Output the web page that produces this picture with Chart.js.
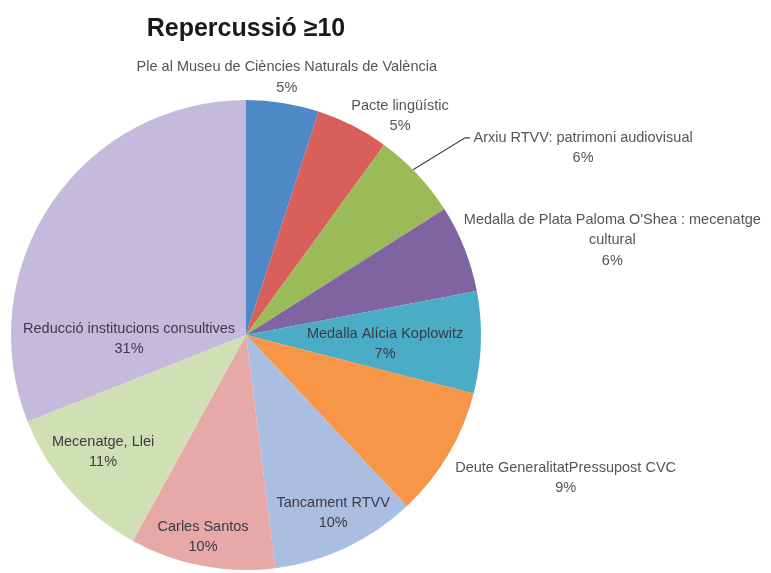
<!DOCTYPE html>
<html>
<head>
<meta charset="utf-8">
<script src="https://cdn.jsdelivr.net/npm/chart.js@4"></script>
<style>
  html, body { margin: 0; padding: 0; background: #ffffff; }
  #wrap { width: 771px; height: 573px; }
</style>
</head>
<body>
<div id="wrap"><canvas id="c" width="771" height="573"></canvas></div>
<script>
// ---- data ----
const titleText = 'Repercussió ≥10';
const categories = [
  'Ple al Museu de Ciències Naturals de València',
  'Pacte lingüístic',
  'Arxiu RTVV: patrimoni audiovisual',
  "Medalla de Plata Paloma O'Shea : mecenatge cultural",
  'Medalla Alícia Koplowitz',
  'Deute GeneralitatPressupost CVC',
  'Tancament RTVV',
  'Carles Santos',
  'Mecenatge, Llei',
  'Reducció institucions consultives'
];
const percentValues = [5, 5, 6, 6, 7, 9, 10, 10, 11, 31];
const labelLines = [
  ['Ple al Museu de Ciències Naturals de València'],
  ['Pacte lingüístic'],
  ['Arxiu RTVV: patrimoni audiovisual'],
  ["Medalla de Plata Paloma O'Shea : mecenatge", 'cultural'],
  ['Medalla Alícia Koplowitz'],
  ['Deute GeneralitatPressupost CVC'],
  ['Tancament RTVV'],
  ['Carles Santos'],
  ['Mecenatge, Llei'],
  ['Reducció institucions consultives']
];
const sliceColors = ['#4f88c6', '#d9605a', '#9bbb59', '#8064a2', '#4bacc6',
                     '#f79646', '#a9bee0', '#e6a9a8', '#d1e0b4', '#c4badb'];
// label anchor: [angle in degrees clockwise from 12 o'clock, distance as fraction of radius]
const labelAnchors = [[9.0, 1.11], [35.1, 1.14], [61.0, 1.64], [75.5, 1.61], [93.7, 0.593],
                      [114.1, 1.49], [153.9, 0.843], [192.0, 0.879], [230.7, 0.786], [268.0, 0.498]];
// leader line for slice index 2: [startAngle, startFrac, endAngle, endFrac]
const leader = { index: 2, from: [45.3, 1.0], to: [48.0, 1.254], tail: 5 };

const labelPlugin = {
  id: 'sliceLabels',
  afterDatasetsDraw(chart) {
    const ctx = chart.ctx;
    const meta = chart.getDatasetMeta(0);
    const arc0 = meta.data[0];
    const cx = arc0.x, cy = arc0.y, R = arc0.outerRadius;
    const pt = (deg, frac) => {
      const a = (deg - 90) * Math.PI / 180;
      return [cx + Math.cos(a) * R * frac, cy + Math.sin(a) * R * frac];
    };
    ctx.save();
    // leader line
    const p1 = pt(leader.from[0], leader.from[1]);
    const p2 = pt(leader.to[0], leader.to[1]);
    ctx.strokeStyle = '#404040';
    ctx.lineWidth = 1.2;
    ctx.beginPath();
    ctx.moveTo(p1[0], p1[1]);
    ctx.lineTo(p2[0], p2[1]);
    ctx.lineTo(p2[0] + leader.tail, p2[1]);
    ctx.stroke();

    ctx.font = '14.5px "Liberation Sans", Arial, sans-serif';
    ctx.textAlign = 'center';
    ctx.textBaseline = 'middle';
    const lh = 20.5;
    meta.data.forEach((arc, i) => {
      const lines = labelLines[i].concat([percentValues[i] + '%']);
      const [x, y] = pt(labelAnchors[i][0], labelAnchors[i][1]);
      const inside = labelAnchors[i][1] < 1;
      ctx.fillStyle = inside ? '#3a3a48' : '#555555';
      const y0 = y - (lines.length - 1) * lh / 2;
      lines.forEach((t, k) => ctx.fillText(t, x, y0 + k * lh));
    });
    ctx.restore();
  }
};

new Chart(document.getElementById('c'), {
  type: 'pie',
  data: {
    labels: categories,
    datasets: [{
      data: percentValues,
      backgroundColor: sliceColors,
      borderWidth: 0
    }]
  },
  options: {
    responsive: false,
    animation: false,
    layout: { padding: { top: 0, bottom: 3, left: 11, right: 290 } },
    plugins: {
      legend: { display: false },
      tooltip: { enabled: false },
      title: {
        display: true,
        text: titleText,
        color: '#1a1a1a',
        font: { family: '"Liberation Sans", Arial, sans-serif', size: 25, weight: 'bold' },
        padding: { top: 14, bottom: 56 }
      }
    }
  },
  plugins: [labelPlugin]
});
</script>
</body>
</html>
